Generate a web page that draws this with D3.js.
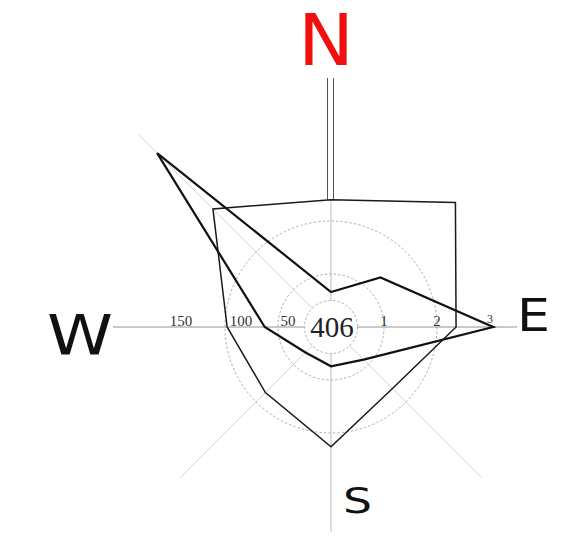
<!DOCTYPE html>
<html><head><meta charset="utf-8">
<script src="https://cdn.jsdelivr.net/npm/d3@7"></script>
<style>html,body{margin:0;padding:0;background:#fff}</style>
</head><body><div id="chart"></div>
<script>
const directions = ["N","NE","E","SE","S","SW","W","NW"];
const outlineValues = [2.40,3.32,2.36,1.64,2.26,1.75,1.96,3.15];
const arrowValues = [0.66,1.32,3.06,0.87,0.74,0.68,1.25,4.64];
const ringValues = [0.5,1,2];
const rightTicks = [1,2,3];
const leftTicks = [50,100,150];
const centerLabel = "406";

const W = 564, H = 548, cx = 331, cy = 327;
const svg = d3.select("#chart").append("svg").attr("width", W).attr("height", H);
const r = d3.scaleLinear().domain([0,3]).range([0,159]);
const rLeft = d3.scaleLinear().domain([0,50,100,150]).range([0,43,90,150]);
const ang = d => directions.indexOf(d) * Math.PI / 4;
const g = svg.append("g").attr("transform", `translate(${cx},${cy})`);
const inner = r(ringValues[0]);

// spokes
const spokes = [{d:"NW", len:272},{d:"SW", len:213},{d:"SE", len:213}];
spokes.forEach(s => {
  const a = ang(s.d);
  g.append("line")
    .attr("x1", inner*Math.sin(a)).attr("y1", -inner*Math.cos(a))
    .attr("x2", s.len*Math.sin(a)).attr("y2", -s.len*Math.cos(a))
    .attr("stroke", "#c8c8c8").attr("stroke-width", 0.8);
});
// horizontal axis
g.append("line").attr("x1", -218).attr("x2", -inner).attr("y1",0).attr("y2",0).attr("stroke","#888").attr("stroke-width",0.9);
g.append("line").attr("x1", inner).attr("x2", 186).attr("y1",0).attr("y2",0).attr("stroke","#888").attr("stroke-width",0.9);
// vertical axis
g.append("line").attr("x1",0).attr("x2",0).attr("y1",-r(outlineValues[0])).attr("y2",-inner).attr("stroke","#aaa").attr("stroke-width",0.8);
g.append("line").attr("x1",0).attr("x2",0).attr("y1",inner).attr("y2",205).attr("stroke","#aaa").attr("stroke-width",0.8);
// north double line
[-3,3].forEach(dx => g.append("line").attr("x1",dx-0.5).attr("x2",dx-0.5)
  .attr("y1",-249).attr("y2",-r(outlineValues[0])).attr("stroke","#555").attr("stroke-width",1));

// rings
g.selectAll("circle.ring").data(ringValues).join("circle")
  .attr("class","ring").attr("r", d => r(d))
  .attr("fill","none").attr("stroke","#9a9a9a").attr("stroke-width",0.8).attr("stroke-dasharray","2.5,2");

// polygons
const line = d3.lineRadial().angle((d,i) => i*Math.PI/4).radius(d => r(d)).curve(d3.curveLinearClosed);
g.append("path").attr("d", line(outlineValues)).attr("fill","none").attr("stroke","#1a1a1a").attr("stroke-width",1.5).attr("stroke-linejoin","miter");
g.append("path").attr("d", line(arrowValues)).attr("fill","none").attr("stroke","#111").attr("stroke-width",2.2).attr("stroke-linejoin","miter");

// tick labels
const serif = "'Liberation Serif', 'DejaVu Serif', serif";
g.selectAll("text.rt").data(rightTicks).join("text")
  .attr("x", d => r(d)).attr("y", d => d === 3 ? -4 : -1)
  .attr("text-anchor","middle").attr("font-family", serif)
  .attr("font-size", d => d === 3 ? 12 : 15).attr("fill","#333").text(d => d);
g.selectAll("text.lt").data(leftTicks).join("text")
  .attr("x", d => -rLeft(d)).attr("y", -1)
  .attr("text-anchor","middle").attr("font-family", serif)
  .attr("font-size", 15).attr("fill","#333").text(d => d);
g.append("text").attr("x",1).attr("y",10).attr("text-anchor","middle")
  .attr("font-family", serif).attr("font-size",29).attr("fill","#222").text(centerLabel);

// compass letters
const sans = "'DejaVu Sans', sans-serif";
const letters = [
  {t:"N", x:298, y:65, size:71, w:56, c:"#f01010"},
  {t:"W", x:47, y:354, size:56, w:66, c:"#111"},
  {t:"E", x:517, y:331, size:45, w:33, c:"#111"},
  {t:"S", x:343, y:513, size:36, w:29, c:"#111"}
];
svg.selectAll("text.cmp").data(letters).join("text")
  .attr("x", d => d.x).attr("y", d => d.y)
  .attr("font-family", sans).attr("font-size", d => d.size)
  .attr("textLength", d => d.w).attr("lengthAdjust","spacingAndGlyphs")
  .attr("fill", d => d.c).text(d => d.t);
</script>
</body></html>
